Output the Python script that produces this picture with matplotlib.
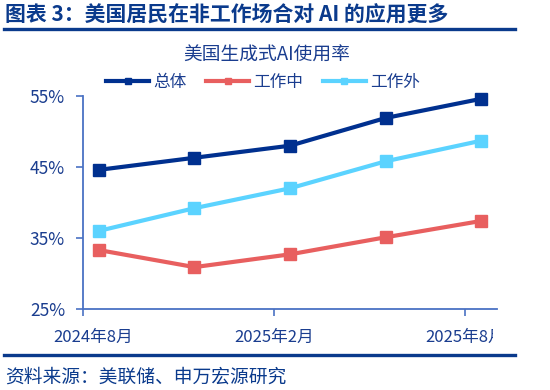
import matplotlib
matplotlib.use("Agg")
import matplotlib.pyplot as plt
from matplotlib.lines import Line2D
from matplotlib.patches import Rectangle
from matplotlib.transforms import ScaledTranslation

plt.rcParams['font.family'] = ['Noto Sans CJK SC', 'DejaVu Sans']

# months since 2024-08-01 (mid-month observations)
months = [0.5, 3.5, 6.5, 9.5, 12.5]
overall = [44.6, 46.3, 48.0, 51.9, 54.6]
at_work = [33.3, 30.9, 32.7, 35.1, 37.4]
outside_work = [36.0, 39.2, 42.0, 45.8, 48.7]
series_names = ['总体', '工作中', '工作外']
xtick_pos = [0, 6, 12]
xtick_labels = ['2024年8月', '2025年2月', '2025年8月']
ytick_vals = [25, 35, 45, 55]

colors = ['#00308F', '#E85F5F', '#5BD3FF']
text_c = '#1A3D8F'
axis_c = '#4A72C4'

fig = plt.figure(figsize=(5.5, 3.9), dpi=100)
fig.patch.set_facecolor('white')

ax = fig.add_axes([83/550, 1-309/390, (497-83)/550, (309-96)/390])
for vals, c, name in zip([overall, at_work, outside_work], colors, series_names):
    ax.plot(months, vals, color=c, lw=3, marker='s', ms=8, label=name, clip_on=False)

ax.set_xlim(0, 13)
ax.set_ylim(25, 55)
ax.set_yticks(ytick_vals)
ax.set_yticklabels([f'{v}%' for v in ytick_vals], color=text_c, fontsize=12.5)
ax.set_xticks(xtick_pos)
ax.set_xticklabels(xtick_labels, color=text_c, fontsize=12)
ax.tick_params(axis='both', colors=axis_c, length=5, width=1.2, labelcolor=text_c)
ax.tick_params(axis='x', pad=9)
ax.tick_params(axis='y', pad=8)
for s in ['top', 'right']:
    ax.spines[s].set_visible(False)
for s in ['left', 'bottom']:
    ax.spines[s].set_color(axis_c)
    ax.spines[s].set_linewidth(1.3)

ticks = ax.xaxis.get_major_ticks()
lab0 = ticks[0].label1
lab0.set_transform(lab0.get_transform() + ScaledTranslation(10/100, 0, fig.dpi_scale_trans))
clip_rect = Rectangle((0, 0), 493/550, 1, transform=fig.transFigure, visible=False)
fig.add_artist(clip_rect)
ticks[-1].label1.set_clip_path(clip_rect)

# chart title
fig.text(267/550, 1-55/390, '美国生成式AI使用率', ha='center', va='center',
         fontsize=13.5, color=text_c)

# legend
handles = [Line2D([0], [0], color=c, lw=3, marker='s', ms=5) for c in colors]
fig.legend(handles, series_names, loc='center', bbox_to_anchor=(263/550, 1-82/390),
           ncol=3, frameon=False, fontsize=12, labelcolor=text_c,
           handlelength=2.6, columnspacing=1.15, handletextpad=0.25)

# header & footer
fig.text(5/550, 1-15/390, '图表 3：美国居民在非工作场合对 AI 的应用更多', ha='left', va='center',
         fontsize=15, fontweight='bold', color='#0A3A8C')
fig.add_artist(Line2D([4/550, 515/550], [1-29/390, 1-29/390], color='#0A3A8C', lw=2.4))
fig.add_artist(Line2D([4/550, 515/550], [1-355/390, 1-355/390], color='#0A3A8C', lw=2.4))
fig.text(5/550, 1-377/390, '资料来源：美联储、申万宏源研究', ha='left', va='center',
         fontsize=13.5, color='#0A3A8C')

fig.savefig('out.png', dpi=100)
